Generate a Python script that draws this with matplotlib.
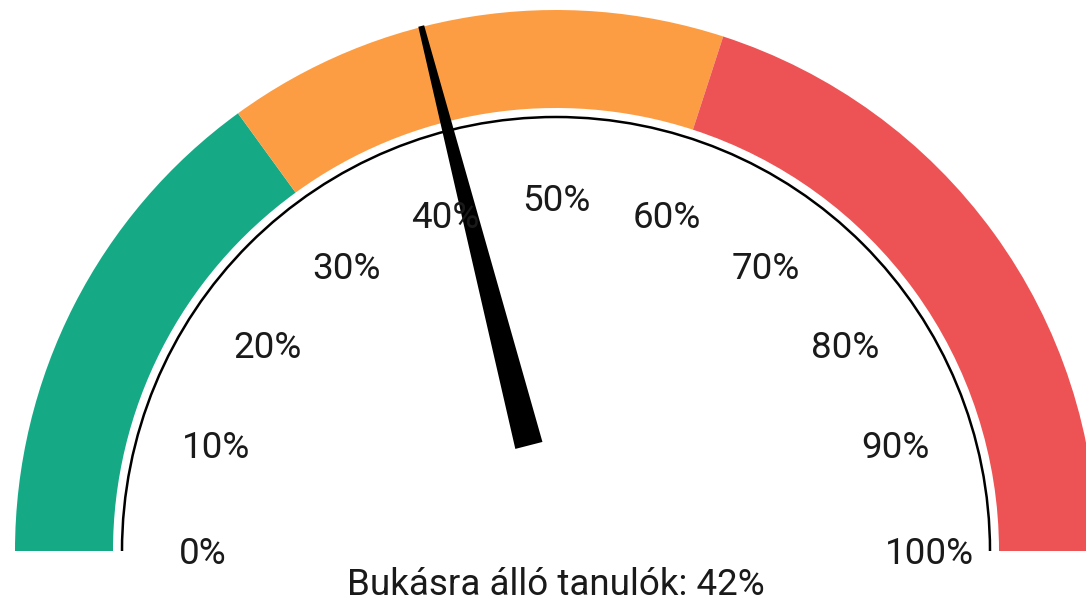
import numpy as np
import matplotlib.pyplot as plt
from matplotlib.patches import Wedge, Polygon, Arc

# data
band_edges = [0, 30, 60, 100]
band_colors = ["#15AA85", "#FD9D43", "#ED5354"]
tick_values = [0, 10, 20, 30, 40, 50, 60, 70, 80, 90, 100]
tick_labels = ["0%", "10%", "20%", "30%", "40%", "50%", "60%", "70%", "80%", "90%", "100%"]
value = 42
title = "Bukásra álló tanulók: 42%"

plt.rcParams['font.family'] = ['Roboto', 'DejaVu Sans']

fig = plt.figure(figsize=(10.86, 6.03), dpi=100)
ax = fig.add_axes([0, 0, 1, 1])
ax.set_xlim(-556, 530)
ax.set_ylim(-52, 551)
ax.axis("off")

r_out, r_in, r_arc = 541, 443, 434
fs = 26.5

def ang(v):
    return 180 - v / 100 * 180

for i in range(len(band_colors)):
    w = Wedge((0, 0), r_out, ang(band_edges[i + 1]), ang(band_edges[i]),
              width=r_out - r_in, color=band_colors[i], lw=0)
    ax.add_patch(w)

ax.add_patch(Arc((0, 0), 2 * r_arc, 2 * r_arc, theta1=0, theta2=180, color="black", lw=1.8))

for v, lab in zip(tick_values, tick_labels):
    a = np.radians(ang(v))
    if v == 0:
        ax.text(-329, -3, lab, ha="right", va="center", fontsize=fs, color="#1a1a1a")
    elif v == 100:
        ax.text(329, -3, lab, ha="left", va="center", fontsize=fs, color="#1a1a1a")
    else:
        ax.text(357 * np.cos(a), 357 * np.sin(a) - 7, lab, ha="center", va="center",
                fontsize=fs, color="#1a1a1a")

# needle
a = np.radians(ang(value))
d = np.array([np.cos(a), np.sin(a)])
p = np.array([-np.sin(a), np.cos(a)])
base = 109 * d
tip = 542 * d
needle = Polygon([base + 14 * p, tip + 3 * p, tip - 3 * p, base - 14 * p],
                 closed=True, color="black", lw=0)
ax.add_patch(needle)

ax.text(0, -34, title, ha="center", va="center", fontsize=fs, color="#1a1a1a")

fig.savefig("out.png", dpi=100)
